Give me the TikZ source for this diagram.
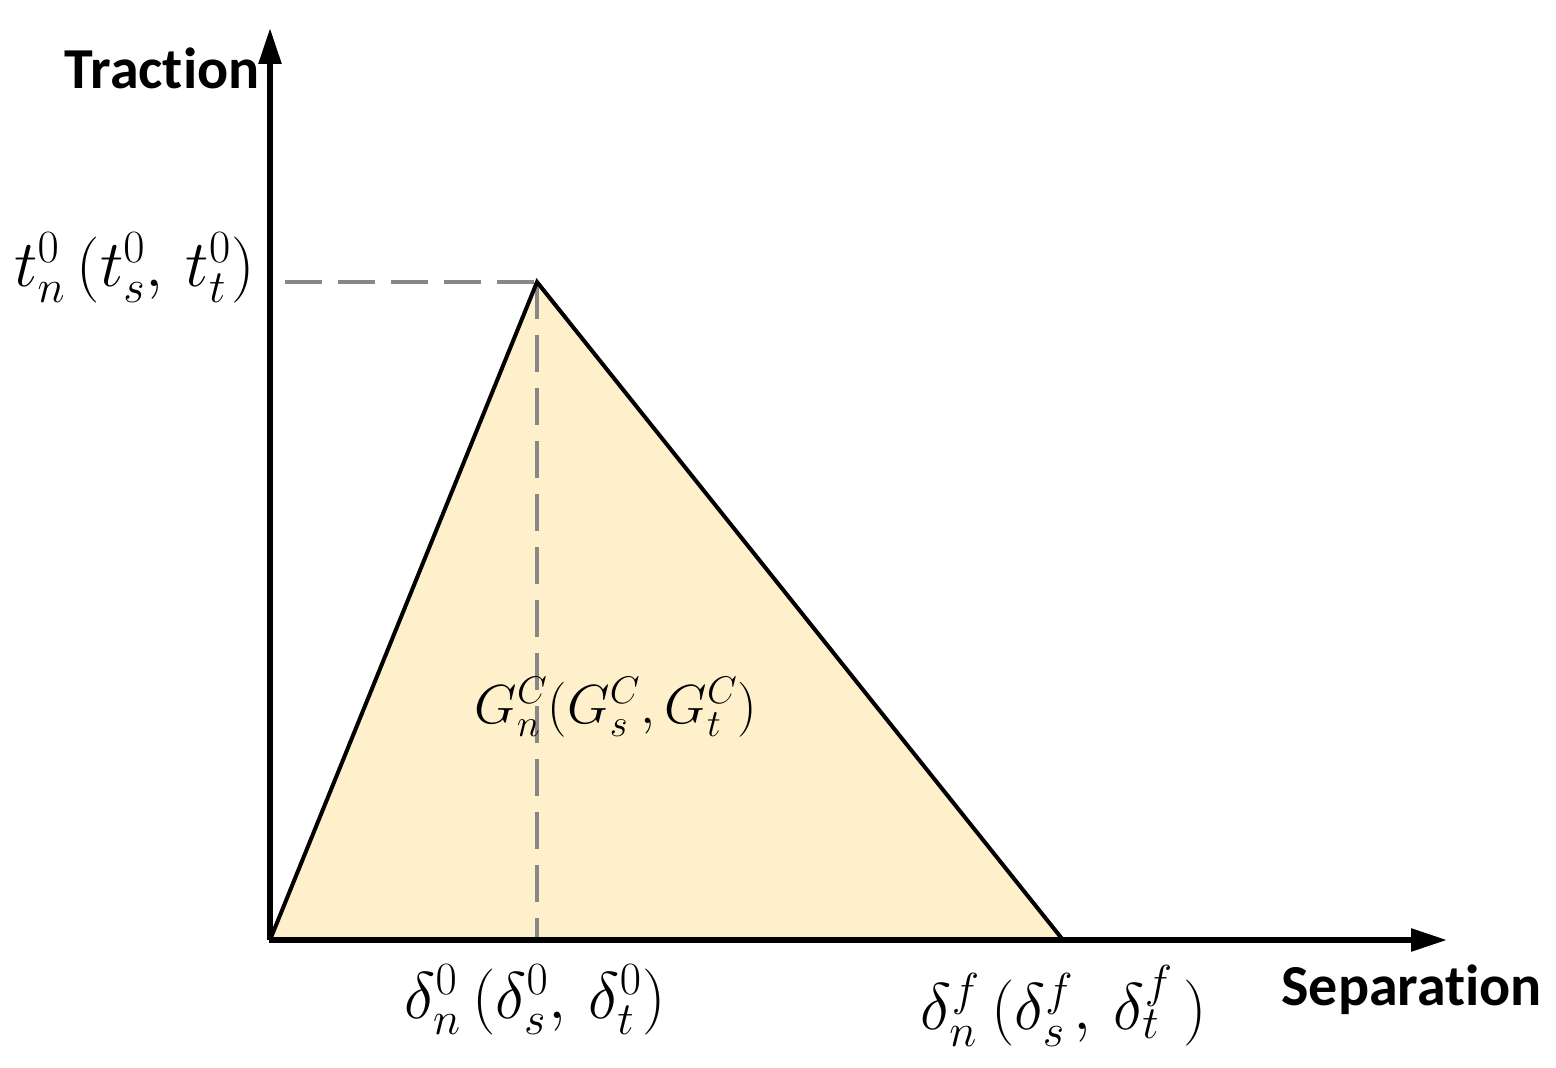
\RequirePackage{fix-cm}
\documentclass[tikz,border=0pt]{standalone}
\usepackage{fontspec}
\setsansfont{Carlito}[Ligatures=NoCommon]
\usetikzlibrary{arrows.meta}
\definecolor{fillgold}{HTML}{FFF0CC}
\definecolor{dashgray}{HTML}{878787}
\begin{document}
\begin{tikzpicture}[x=0.5pt,y=-0.5pt,
  axis/.style={line width=2.8pt,-{Triangle[length=18pt,width=11pt]}},
  curve/.style={line width=2pt,line join=miter},
  guide/.style={dashgray,line width=1.6pt,dash pattern=on 18.5pt off 8pt},
  axlabel/.style={font=\sffamily\bfseries\fontsize{29}{34}\selectfont,inner sep=0pt},
  mlabel/.style={font=\fontsize{33}{38}\selectfont,inner sep=0pt},
  glabel/.style={font=\fontsize{27.5}{32}\selectfont,inner sep=0pt}]
\useasboundingbox (0,0) rectangle (1556,1068);
\coordinate (O) at (270,940);
\coordinate (P) at (537,282);
\coordinate (F) at (1063,940);
\coordinate (Ytop) at (270,28);
\coordinate (Xend) at (1447,940);
\coordinate (Tstart) at (285,282);
\coordinate (Pfoot) at (537,940);
\fill[fillgold] (O) -- (P) -- (F) -- cycle;
\draw[guide] (Tstart) -- (P);
\draw[guide] (P) -- (Pfoot);
\draw[curve] (O) -- (P) -- (F);
\draw[axis] (O) -- (Ytop);
\draw[axis] (268.6,940) -- (Xend);
\node[axlabel,anchor=base east] (trac) at (260,89) {Traction};
\node[axlabel,anchor=base west] (sep) at (1281,1005) {Separation};
\node[mlabel,anchor=east] (tlab) at (255,268) {$t_n^0\,(t_s^0,\,t_t^0)$};
\node[mlabel] (d0) at (535,1000) {$\delta_n^0\,(\delta_s^0,\,\delta_t^0)$};
\node[mlabel] (df) at (1064,1006) {$\delta_n^f\,(\delta_s^f,\,\delta_t^f\,)$};
\node[glabel] (G) at (616,707) {$G_n^C(G_s^C,G_t^C)$};
\end{tikzpicture}
\end{document}
